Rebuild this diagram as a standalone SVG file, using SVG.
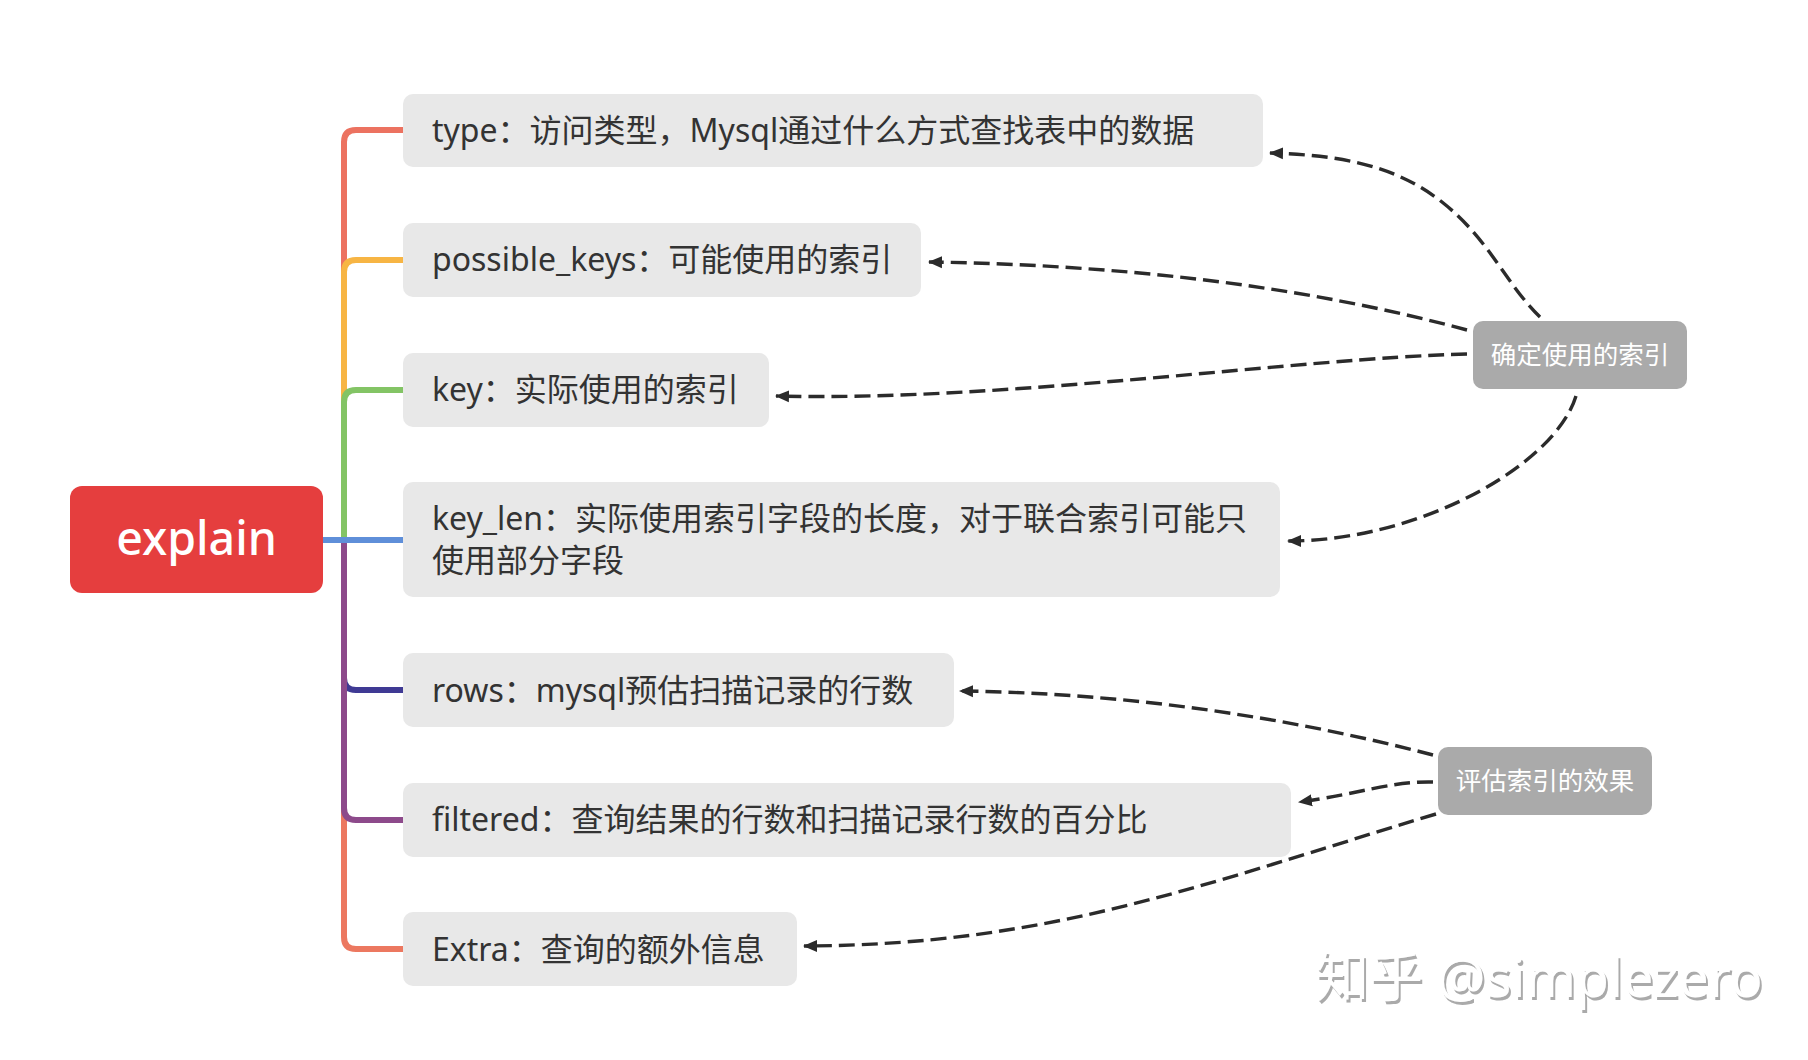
<svg xmlns="http://www.w3.org/2000/svg" width="1808" height="1060" viewBox="0 0 1808 1060">
<style>
text{font-family:"Noto Sans","Noto Sans CJK SC",sans-serif}
.n{fill:#e8e8e8}
.t{font-size:32px;fill:#333}
.g{fill:#aaa}
.l{font-size:25.5px;fill:#fff;text-anchor:middle}
.b{fill:none;stroke-width:6;stroke-linecap:butt}
.d{fill:none;stroke:#2b2b2b;stroke-width:3.4;stroke-dasharray:16 7;marker-end:url(#b)}
</style>
<defs>
<marker id="b" markerUnits="userSpaceOnUse" markerWidth="14" markerHeight="14" refX="13" refY="7" orient="auto"><path d="M0 1L14 7L0 13Z" fill="#2b2b2b"/></marker>
<filter id="w" x="-5%" y="-10%" width="110%" height="120%"><feDropShadow dx="2" dy="3" stdDeviation="0.4" flood-color="#aaa"/></filter>
</defs>
<rect width="1808" height="1060" fill="#fff"/>
<g id="connectors">
<path class="b" stroke="#ec7260" d="M323 540H344V142Q344 130 356 130H403"/>
<path class="b" stroke="#f7b544" d="M323 540H344V272Q344 260 356 260H403"/>
<path class="b" stroke="#83c465" d="M323 540H344V402Q344 390 356 390H403"/>
<path class="b" stroke="#ec7860" d="M323 540H344V937Q344 949 356 949H403"/>
<path class="b" stroke="#3f3a94" d="M323 540H344V678Q344 690 356 690H403"/>
<path class="b" stroke="#8d4a8b" d="M323 540H344V808Q344 820 356 820H403"/>
<path class="b" stroke="#5f8fd9" d="M323 540H403"/>
<path class="d" d="M1540 317C1505 283 1490 240 1442 202C1395 165 1340 155 1270 153"/>
<path class="d" d="M1467 330C1300 285 1120 265 929 262"/>
<path class="d" d="M1467 354C1300 358 1000 402 776 396"/>
<path class="d" d="M1576 396C1555 465 1420 541 1288 541"/>
<path class="d" d="M1433 755C1280 715 1120 693 960 691"/>
<path class="d" d="M1433 782C1390 781 1360 794 1299 802"/>
<path class="d" d="M1436 814C1200 885 1050 945 804 946"/>
</g>
<g id="root"><rect x="70" y="486" width="253" height="107" rx="12" fill="#e53e3e"/><text x="196.500" y="555" font-size="46.500" font-weight="500" fill="#fff" text-anchor="middle">explain</text></g>
<g id="type"><rect class="n" x="403" y="94" width="860" height="73" rx="10"/><text class="t" x="432" y="142">type：访问类型，Mysql通过什么方式查找表中的数据</text></g>
<g id="possible_keys"><rect class="n" x="403" y="223" width="518" height="74" rx="10"/><text class="t" x="432" y="271">possible_keys：可能使用的索引</text></g>
<g id="key"><rect class="n" x="403" y="353" width="366" height="74" rx="10"/><text class="t" x="432" y="401">key：实际使用的索引</text></g>
<g id="key_len"><rect class="n" x="403" y="482" width="877" height="115" rx="10"/><text class="t" x="432" y="530">key_len：实际使用索引字段的长度，对于联合索引可能只</text><text class="t" x="432" y="572">使用部分字段</text></g>
<g id="rows"><rect class="n" x="403" y="653" width="551" height="74" rx="10"/><text class="t" x="432" y="702">rows：mysql预估扫描记录的行数</text></g>
<g id="filtered"><rect class="n" x="403" y="783" width="888" height="74" rx="10"/><text class="t" x="432" y="831">filtered：查询结果的行数和扫描记录行数的百分比</text></g>
<g id="extra"><rect class="n" x="403" y="912" width="394" height="74" rx="10"/><text class="t" x="432" y="961">Extra：查询的额外信息</text></g>
<g id="confirm"><rect class="g" x="1473" y="321" width="214" height="68" rx="10"/><text class="l" x="1580" y="364">确定使用的索引</text></g>
<g id="evaluate"><rect class="g" x="1438" y="747" width="214" height="68" rx="10"/><text class="l" x="1545" y="790">评估索引的效果</text></g>
<text x="1315" y="997" font-size="54" fill="#fff" filter="url(#w)">知乎 @simplezero</text>
</svg>
